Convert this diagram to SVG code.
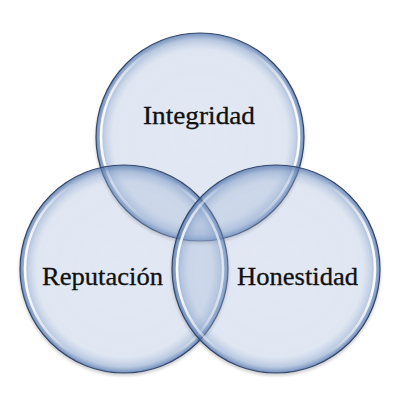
<svg xmlns="http://www.w3.org/2000/svg" width="400" height="400" viewBox="0 0 400 400">
<defs>
<radialGradient id="fillG" cx="50%" cy="50%" r="50%">
<stop offset="0%" stop-color="#a9c0e6" stop-opacity="0.25"/>
<stop offset="84%" stop-color="#a9c0e6" stop-opacity="0.27"/>
<stop offset="94%" stop-color="#7f9fd0" stop-opacity="0.45"/>
<stop offset="100%" stop-color="#4a6fab" stop-opacity="0.75"/>
</radialGradient>
<linearGradient id="glossG" x1="0" y1="0" x2="1" y2="0">
<stop offset="0%" stop-color="#ffffff" stop-opacity="0.95"/>
<stop offset="25%" stop-color="#ffffff" stop-opacity="0"/>
<stop offset="75%" stop-color="#ffffff" stop-opacity="0"/>
<stop offset="100%" stop-color="#ffffff" stop-opacity="0.95"/>
</linearGradient>
<filter id="sh" x="-10%" y="-10%" width="120%" height="125%">
<feGaussianBlur in="SourceAlpha" stdDeviation="1.5"/>
<feOffset dy="1.5" result="b"/>
<feComponentTransfer><feFuncA type="linear" slope="0.25"/></feComponentTransfer>
<feMerge><feMergeNode/><feMergeNode in="SourceGraphic"/></feMerge>
</filter>
</defs>
<style>
.c{fill:url(#fillG);stroke:#34476a;stroke-width:1.2}
.g{fill:none;stroke:url(#glossG);stroke-width:2.5}
.t{font-family:"Liberation Serif","DejaVu Serif",serif;font-size:25px;fill:#111;stroke:#111;stroke-width:0.3;text-anchor:middle}
</style>
<rect width="400" height="400" fill="#ffffff"/>
<g id="integridad" filter="url(#sh)">
<circle class="c" cx="200" cy="137" r="104"/>
<circle class="g" cx="200" cy="137" r="99"/>
</g>
<g id="reputacion" filter="url(#sh)">
<circle class="c" cx="124" cy="269" r="104"/>
<circle class="g" cx="124" cy="269" r="99"/>
</g>
<g id="honestidad" filter="url(#sh)">
<circle class="c" cx="276" cy="269" r="104"/>
<circle class="g" cx="276" cy="269" r="99"/>
</g>
<g id="labels">
<text class="t" x="199" y="124" textLength="112" lengthAdjust="spacingAndGlyphs">Integridad</text>
<text class="t" x="102.5" y="285" textLength="121" lengthAdjust="spacingAndGlyphs">Reputación</text>
<text class="t" x="297.5" y="285" textLength="121" lengthAdjust="spacingAndGlyphs">Honestidad</text>
</g>
</svg>
